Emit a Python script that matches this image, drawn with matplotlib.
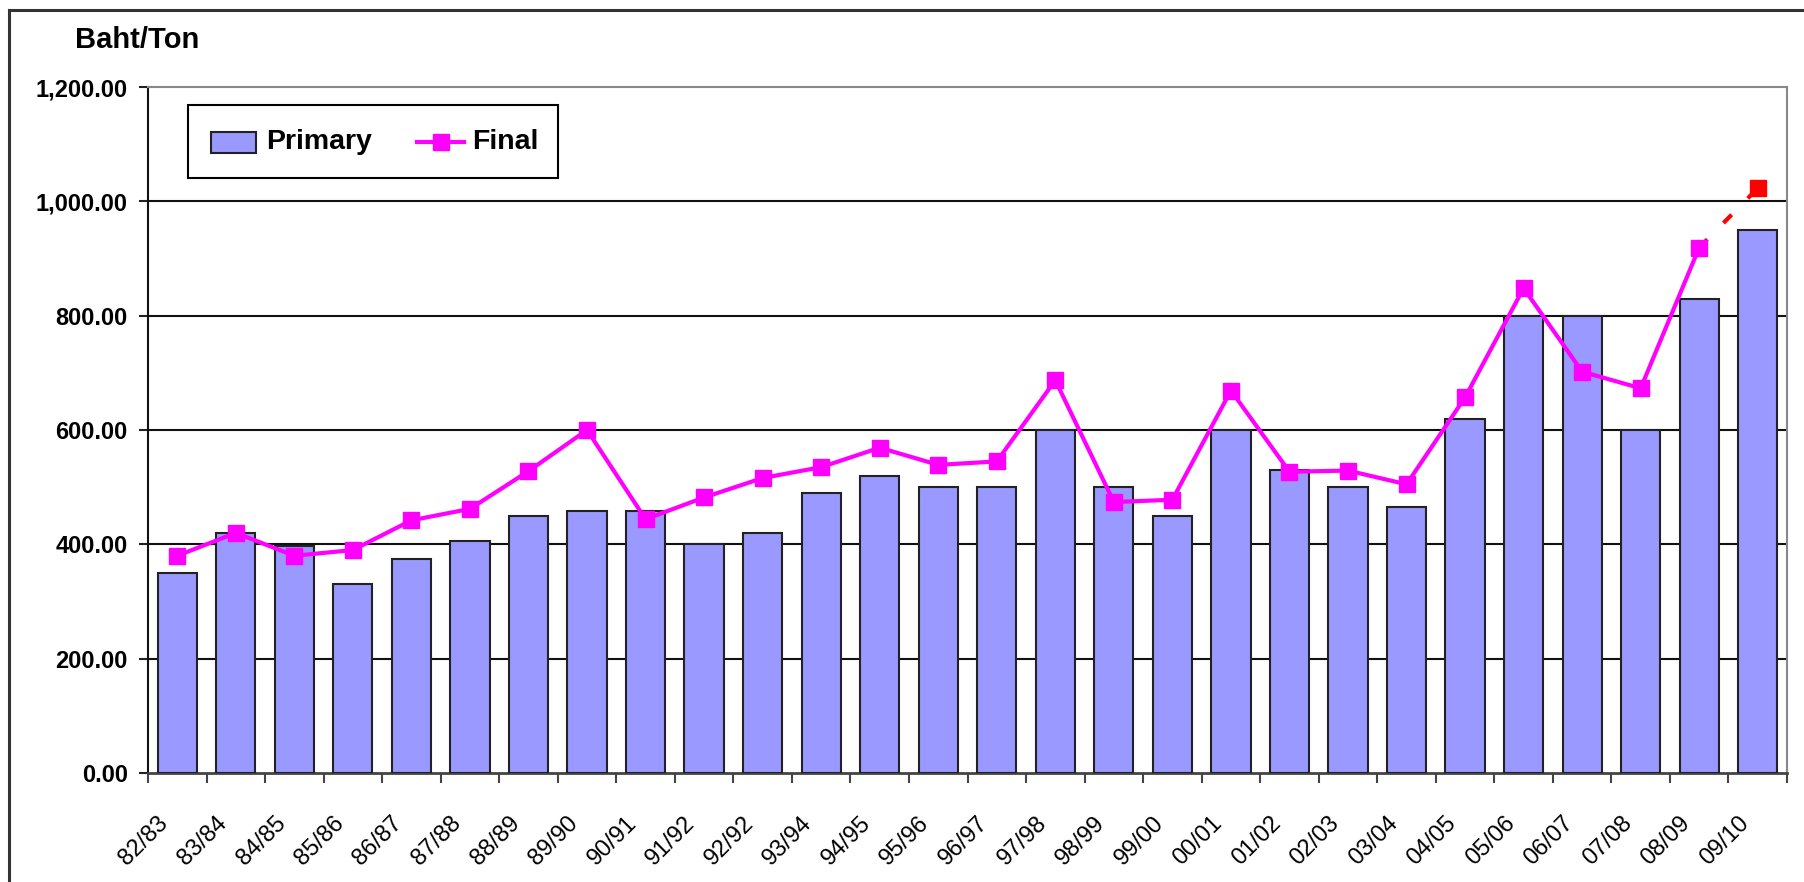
import matplotlib
matplotlib.use("Agg")
import matplotlib.pyplot as plt
from matplotlib.lines import Line2D
from matplotlib.patches import Rectangle
from matplotlib.transforms import ScaledTranslation, Affine2D
import numpy as np

seasons = ["82/83", "83/84", "84/85", "85/86", "86/87", "87/88", "88/89", "89/90",
           "90/91", "91/92", "92/92", "93/94", "94/95", "95/96", "96/97", "97/98",
           "98/99", "99/00", "00/01", "01/02", "02/03", "03/04", "04/05", "05/06",
           "06/07", "07/08", "08/09", "09/10"]
primary = [350, 420, 397, 330, 375, 405, 450, 458, 458, 400, 420, 490, 520, 500,
           500, 600, 500, 450, 600, 530, 500, 465, 620, 800, 800, 600, 830, 950]
final = [380, 420, 380, 390, 442, 462, 528, 600, 444, 482, 516, 535, 569, 539,
         545, 687, 474, 478, 669, 527, 529, 505, 657, 848, 702, 673, 919]
final_estimate = 1023  # 09/10 (red, projected)
yticks = [0, 200, 400, 600, 800, 1000, 1200]

BOLD = ["Liberation Sans", "DejaVu Sans"]
REG = ["Liberation Sans", "DejaVu Sans"]
BAR_COLOR = "#9999FF"
LINE_COLOR = "#FF00FF"

W, H = 1804, 882
fig = plt.figure(figsize=(W / 100, H / 100), dpi=100)
fig.patch.set_facecolor("white")

# pixel transform (origin top-left) for decorations
px = Affine2D().scale(1 / W, -1 / H).translate(0, 1) + fig.transFigure

# outer frame (top and left edges visible)
fig.add_artist(Line2D([9, W + 5], [10, 10], color="#333333", lw=2.2, transform=px))
fig.add_artist(Line2D([9, 9], [10, H + 5], color="#333333", lw=2.2, transform=px))

ax = fig.add_axes([148 / W, 1 - 773 / H, (1787 - 148) / W, (773 - 87) / H])
x = np.arange(len(seasons))

ax.bar(x, primary, width=0.67, color=BAR_COLOR, edgecolor="#222222", linewidth=1.5,
       zorder=3)
xf = x[:len(final)]
ax.plot(xf, final, color=LINE_COLOR, lw=3, marker="s", markersize=11,
        markerfacecolor=LINE_COLOR, markeredgecolor=LINE_COLOR, zorder=4)
ax.plot([xf[-1], x[-1]], [final[-1], final_estimate], color="#FF0000", lw=3,
        dashes=(2.8, 5.5), zorder=3.5)
ax.plot([x[-1]], [final_estimate], marker="s", markersize=11.5, color="#FF0000",
        linestyle="none", zorder=4)

ax.set_xlim(-0.5, len(seasons) - 0.5)
ax.set_ylim(0, 1200)
ax.set_yticks(yticks)
ax.set_yticklabels([f"{v:,.2f}" for v in yticks], fontsize=17, fontweight="bold",
                   family=BOLD)
ax.tick_params(axis="y", direction="out", length=6.5, width=1.5, pad=8,
               colors="#222222", labelcolor="black")

for v in yticks[1:-1]:
    ax.axhline(v, color="#111111", lw=1.5, zorder=1)

ax.set_xticks(np.arange(-0.5, len(seasons), 1.0))
ax.set_xticklabels([])
ax.tick_params(axis="x", which="major", direction="out", length=7, width=1.5,
               colors="#444444")
ax.set_xticks(x, minor=True)
ax.set_xticklabels(seasons, minor=True, rotation=45, ha="right",
                   rotation_mode="anchor", fontsize=17, family=REG)
ax.tick_params(axis="x", which="minor", length=0, pad=28, labelcolor="black")
shift = ScaledTranslation(-20 / 100, 0, fig.dpi_scale_trans)
for lbl in ax.get_xticklabels(minor=True):
    lbl.set_transform(lbl.get_transform() + shift)

for s in ["top", "right"]:
    ax.spines[s].set_color("#888888")
    ax.spines[s].set_linewidth(1.5)
ax.spines["left"].set_color("#111111")
ax.spines["left"].set_linewidth(1.5)
ax.spines["bottom"].set_color("#444444")
ax.spines["bottom"].set_linewidth(2)

fig.text(75, 40, "Baht/Ton", fontsize=21, fontweight="bold", family=BOLD,
         va="center", ha="left", transform=px)

# legend (drawn in pixel coordinates)
fig.add_artist(Rectangle((188, 105), 370, 73, facecolor="white", edgecolor="black",
                         lw=1.5, transform=px, zorder=5))
fig.add_artist(Rectangle((211, 132), 45, 21, facecolor=BAR_COLOR, edgecolor="#222222",
                         lw=1.5, transform=px, zorder=6))
fig.text(266, 142, "Primary", fontsize=20.5, fontweight="bold", family=BOLD,
         va="center", ha="left", transform=px, zorder=6)
fig.add_artist(Line2D([417, 464], [142, 142], color=LINE_COLOR, lw=3, transform=px,
                      zorder=6))
fig.add_artist(Line2D([440.5], [142], color=LINE_COLOR, marker="s", markersize=11,
                      transform=px, zorder=7))
fig.text(472, 142, "Final", fontsize=20.5, fontweight="bold", family=BOLD,
         va="center", ha="left", transform=px, zorder=6)

fig.savefig("out.png", dpi=100, facecolor="white")
